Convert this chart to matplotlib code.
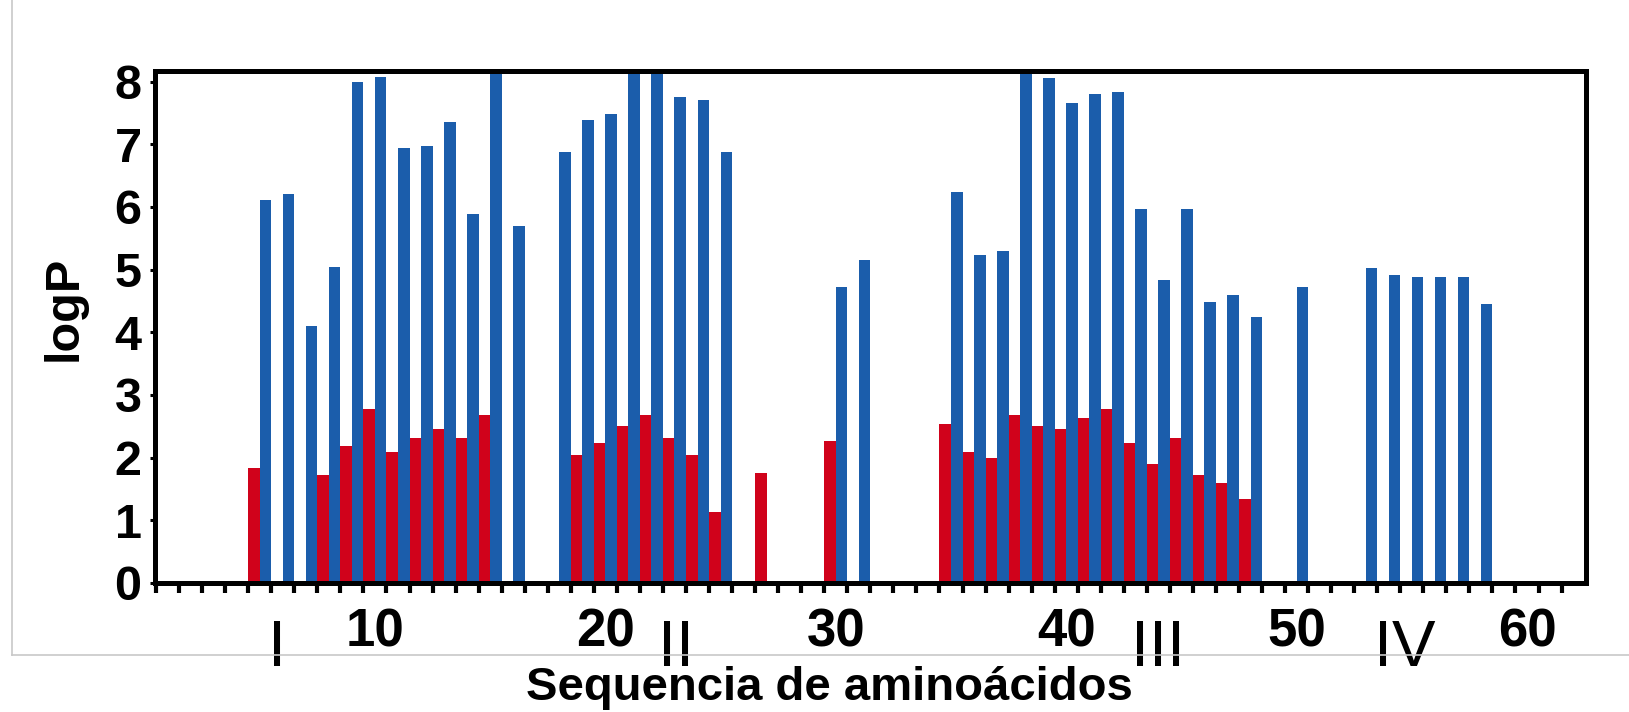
import numpy as np
import matplotlib
matplotlib.use("Agg")
import matplotlib.pyplot as plt
from matplotlib.lines import Line2D

# posicoes na sequencia (5..58)
posicoes = np.arange(5, 59)

# logP (barras vermelhas)
logp_vermelho = [1.84, 0, 0, 1.73, 2.18, 2.78, 2.09, 2.31, 2.45, 2.31,
                 2.68, 0, 0, 0, 2.05, 2.23, 2.50, 2.68, 2.31, 2.05,
                 1.13, 0, 1.76, 0, 0, 2.27, 0, 0, 0, 0,
                 2.54, 2.09, 1.99, 2.68, 2.50, 2.45, 2.64, 2.77, 2.23, 1.90,
                 2.31, 1.72, 1.59, 1.34, 0, 0, 0, 0, 0, 0,
                 0, 0, 0, 0]

# logP (barras azuis) - as que passam de 8 ficam cortadas no topo
logp_azul = [6.11, 6.21, 4.10, 5.05, 7.99, 8.08, 6.94, 6.98, 7.35, 5.89,
             8.60, 5.70, 0, 6.88, 7.39, 7.48, 8.60, 8.60, 7.75, 7.71,
             6.88, 0, 0, 0, 0, 4.73, 5.15, 0, 0, 0,
             6.24, 5.24, 5.29, 8.60, 8.06, 7.66, 7.80, 7.84, 5.97, 4.83,
             5.97, 4.49, 4.59, 4.24, 0, 4.73, 0, 0, 5.03, 4.91,
             4.88, 4.88, 4.88, 4.45]

rotulos_x = [10, 20, 30, 40, 50, 60]
regioes = ["I", "II", "III", "IV"]
regioes_x = [5.75, 23.06, 43.98, 54.7]

cor_vermelho = "#d0021b"
cor_azul = "#1b5dab"
largura = 0.5

fig = plt.figure(figsize=(16.29, 7.12), dpi=100)
ax = fig.add_axes([0.0951, 0.1812, 0.8785, 0.7191])

ax.bar(posicoes - largura / 2, logp_vermelho, width=largura, color=cor_vermelho, linewidth=0)
ax.bar(posicoes + largura / 2, logp_azul, width=largura, color=cor_azul, linewidth=0)

ax.set_xlim(0.45, 62.56)
ax.set_ylim(0, 8.17)

for lado in ["top", "bottom", "left", "right"]:
    ax.spines[lado].set_linewidth(3.6)
    ax.spines[lado].set_color("black")

fonte = "Liberation Sans"

ax.set_yticks(range(0, 9))
ax.tick_params(axis="y", length=3.6, width=2.2, pad=6, labelsize=35)
ax.set_xticks(rotulos_x)
ax.set_xticks(np.arange(0.5, 62, 1), minor=True)
ax.tick_params(axis="x", which="major", length=0, pad=18, labelsize=38)
ax.tick_params(axis="x", which="minor", length=7.5, width=3)
for t in ax.get_xticklabels() + ax.get_yticklabels():
    t.set_fontfamily(fonte)
    t.set_fontweight("bold")

ax.set_ylabel("logP", fontsize=35, fontweight="bold", family=fonte, va="center")
ax.yaxis.set_label_coords(-0.0636, 0.536)
ax.set_xlabel("Sequencia de aminoácidos", fontsize=34, fontweight="bold",
              family=fonte, va="baseline")
ax.xaxis.set_label_coords(0.471, -0.228)

for nome, xr in zip(regioes, regioes_x):
    ax.text(xr, -0.1618, nome, transform=ax.get_xaxis_transform(),
            ha="center", va="baseline", fontsize=47,
            family=fonte, fontweight="normal", clip_on=False)

# moldura cinza da captura
fig.add_artist(Line2D([0.0074, 0.0074], [0.080, 1.0], color="#c8c8c8", linewidth=1.2))
fig.add_artist(Line2D([0.0074, 1.0], [0.080, 0.080], color="#c8c8c8", linewidth=1.2))

fig.savefig("out.png", dpi=100, facecolor="white")
